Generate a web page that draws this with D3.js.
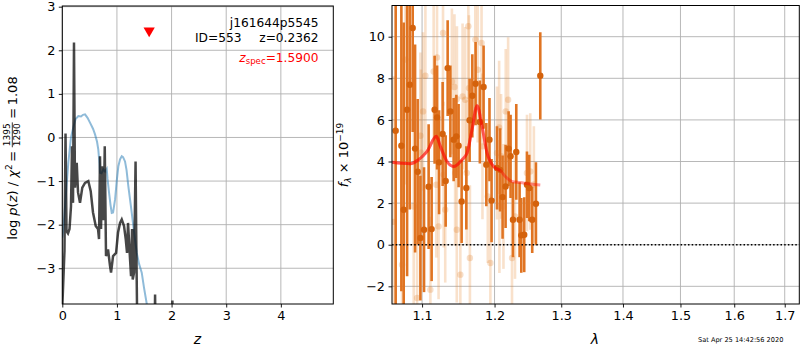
<!DOCTYPE html>
<html><head><meta charset="utf-8">
<script src="https://cdn.jsdelivr.net/npm/d3@7"></script>
<style>body{margin:0;background:#fff} text{font-family:"DejaVu Sans",sans-serif}</style>
</head><body><svg id="c" width="800" height="350" xmlns="http://www.w3.org/2000/svg"></svg>
<script>
// ---------- data ----------
// left panel: chi2-based log p(z) (dark) and prior/template log p(z) (blue)
const chiZ   = [0,0.018,0.040,0.059,0.077,0.104,0.132,0.159,0.178,0.196,0.214,0.232,0.264,0.288,0.324,0.366,0.416,0.476,0.520,0.562,0.612,0.654,0.672,0.690,0.709,0.727,0.758,0.777,0.800,0.837,0.874,0.892,0.929,0.984,1.020,1.057,1.088,1.130,1.161,1.185,1.203,1.240,1.258,1.277,1.289,1.313,1.341,1.355,1.374,1.689,1.698,1.707,2.009,2.015,2.024,4.96];
const chiLogP= [-3.9,-3.3,-2.6,0.09,-2.15,-2.2,-2.1,-1.58,-0.2,-1.5,2.18,-1.15,-0.58,-1.26,-1.5,-1.15,-1.04,-1.0,-1.23,-1.72,-2.03,-2.1,-2.33,-0.43,-2.1,-0.66,-1.9,-0.2,-2.72,-2.57,-2.95,-3.1,-2.72,-2.65,-2.18,-1.96,-1.88,-2.03,-2.33,-2.65,-1.96,-2.8,-3.18,-2.1,-3.26,-3.1,-0.55,-2.5,-4.6,-4.6,-3.6,-4.6,-4.6,-3.74,-4.6,-4.6];
const blueZ  = [0,0.018,0.049,0.110,0.159,0.201,0.242,0.293,0.342,0.379,0.416,0.462,0.507,0.562,0.599,0.636,0.659,0.681,0.690,0.718,0.751,0.782,0.813,0.828,0.856,0.883,0.905,0.929,0.966,0.996,1.026,1.057,1.088,1.112,1.148,1.176,1.209,1.258,1.300,1.332,1.363,1.405,1.454,1.496,1.546,1.588,1.643,2.0,4.96];
const blueLogP=[-2.3,-2.11,-1.6,-0.58,0.0,0.23,0.42,0.49,0.48,0.52,0.53,0.45,0.34,0.2,0.07,-0.1,-0.28,-0.6,-0.81,-0.82,-0.73,-0.78,-0.72,-0.95,-1.27,-1.55,-1.73,-1.72,-1.42,-1.0,-0.66,-0.5,-0.43,-0.45,-0.55,-0.75,-1.12,-1.6,-2.03,-2.35,-2.65,-2.9,-3.1,-3.45,-3.82,-4.3,-5,-8,-20];
const zSpec = 1.59, zSpecMarker = 2.45;
const labelName = "j161644p5545", labelId = "ID=553", labelZ = "z=0.2362", labelZspec = "=1.5900";
const chi2Num = "1395", chi2Den = "1290", chi2Red = "1.08";
const timestamp = "Sat Apr 25 14:42:56 2020";

// right panel: spectrum, strong orientation (dark) and weak orientation (light)
const darkWave = [1.0657,1.0730,1.0760,1.0804,1.0838,1.0877,1.0908,1.0942,1.0978,1.1026,1.1087,1.1127,1.1167,1.1200,1.1227,1.1275,1.1316,1.1343,1.1380,1.1425,1.1462,1.1493,1.1535,1.1600,1.1646,1.1684,1.1730,1.1790,1.1843,1.1882,1.1927,1.1957,1.2035,1.2080,1.2116,1.2160,1.2204,1.2233,1.2268,1.2317,1.2366,1.2391,1.2435,1.2476,1.2510,1.2555,1.2611,1.2677];
const darkFlux = [5.48,4.76,1.68,6.49,7.69,10.42,4.62,3.51,0.32,0.72,2.79,0.75,6.49,6.12,3.96,5.32,3.06,8.49,6.41,5.05,5.21,4.76,2.08,2.73,5.98,7.16,7.74,5.9,7.58,3.85,5.05,2.12,3.69,3.6,2.29,2.8,4.62,4.25,1.2,4.46,1.2,0.45,0.48,2.88,2.73,1.2,1.97,8.12];
const darkErr  = [9,7,9,8,6,5,5,3.5,3,3,3,2.5,2.6,2.5,2.5,2.5,2.2,2.3,2.2,2.0,2.0,2.0,2.0,2.0,2.0,2.0,2.0,2.0,2.0,2.0,2.0,2.0,2.0,2.0,2.0,2.0,1.8,2.0,1.8,2.3,1.8,1.8,1.8,1.6,1.6,1.6,2.0,2.1];
const lightWave = [1.0632,1.0739,1.0782,1.0890,1.0934,1.0978,1.0985,1.1013,1.1044,1.1110,1.1154,1.1190,1.1199,1.1220,1.1280,1.1288,1.1310,1.1401,1.1436,1.1445,1.1468,1.1470,1.1517,1.1548,1.1584,1.1606,1.1628,1.1637,1.1650,1.1726,1.1760,1.1814,1.1827,1.1903,1.1940,1.2035,1.2066,1.2070,1.2094,1.2129,1.2162,1.2197,1.2254,1.2298,1.2476,1.2525,1.2580];
const lightFlux = [1.1,-0.96,8.9,1.84,-2.56,5.24,4.42,6.41,8.12,-2.16,8.33,2.88,9.0,0.88,10.18,3.37,1.68,7.85,7.58,3.45,0.72,7.0,-1.44,7.13,6.97,3.45,10.5,7.53,-0.64,9.86,8.41,9.7,4.73,2.32,-0.88,4.41,5.64,1.84,4.25,1.84,6.41,6.97,-0.64,1.36,3.45,3.52,2.9];
const lightErr  = [7,6,6,5,4.5,4,4,3.8,3.8,3.5,3.5,3.5,3.5,3.5,3.5,3.5,3.5,3.5,3.5,3.5,3.5,3.5,3.5,3.5,3.5,3.5,3.5,3.5,3.5,3.5,3.5,3.5,3.5,3.2,3.2,3.2,3.2,3.2,3.0,3.0,3.0,3.0,3.0,3.0,2.8,2.8,2.8];
const modelWave = [1.0611,1.0847,1.0955,1.1066,1.1190,1.1244,1.1335,1.1425,1.1541,1.1610,1.1680,1.1750,1.1821,1.1892,1.1986,1.2083,1.2156,1.2254,1.2376,1.2525,1.2677];
const modelFlux = [3.96,3.89,4.09,4.49,5.21,4.73,4.0,3.76,4.09,4.41,5.53,6.68,5.69,4.41,3.76,3.57,3.28,3.04,2.99,2.92,2.87];

const leftXTicks = [0,1,2,3,4], leftYTicks = [-3,-2,-1,0,1,2,3];
const rightXTicks = [1.1,1.2,1.3,1.4,1.5,1.6,1.7], rightYTicks = [-2,0,2,4,6,8,10];

// ---------- drawing ----------
const svg = d3.select("#c");
const FONT = "DejaVu Sans, sans-serif";
const L = {x0:62.3, x1:333.3, y0:6, y1:304};
const R = {x0:392, x1:799.3, y0:5.5, y1:304};

const xL = d3.scaleLinear().domain([0,4.96]).range([L.x0,L.x1]);
const yL = d3.scaleLinear().domain([-3.82,3.016]).range([L.y1,L.y0]);
const xR = d3.scaleLog().domain([1.061,1.730]).range([R.x0,R.x1]);
const yR = d3.scaleLinear().domain([-2.85,11.5]).range([R.y1,R.y0]);

const defs = svg.append("defs");
defs.append("clipPath").attr("id","clipL").append("rect").attr("x",L.x0).attr("y",L.y0).attr("width",L.x1-L.x0).attr("height",L.y1-L.y0);
defs.append("clipPath").attr("id","clipR").append("rect").attr("x",R.x0).attr("y",R.y0).attr("width",R.x1-R.x0).attr("height",R.y1-R.y0);

function grid(P, xs, ys, xt, yt){
  const g = svg.append("g");
  g.selectAll(".gx").data(xt).join("line").attr("x1",d=>xs(d)).attr("x2",d=>xs(d)).attr("y1",P.y0).attr("y2",P.y1)
   .attr("stroke","#b0b0b0").attr("stroke-width",0.9);
  g.selectAll(".gy").data(yt).join("line").attr("y1",d=>ys(d)).attr("y2",d=>ys(d)).attr("x1",P.x0).attr("x2",P.x1)
   .attr("stroke","#b0b0b0").attr("stroke-width",0.9);
}
function axes(P, xs, ys, xt, yt, xf, yf){
  const ax = svg.append("g").attr("transform",`translate(0,${P.y1})`)
    .call(d3.axisBottom(xs).tickValues(xt).tickFormat(xf).tickSize(3.5).tickPadding(3.5));
  const ay = svg.append("g").attr("transform",`translate(${P.x0},0)`)
    .call(d3.axisLeft(ys).tickValues(yt).tickFormat(yf).tickSize(3.5).tickPadding(3.5));
  [ax,ay].forEach(a=>{
    a.select(".domain").remove();
    a.attr("font-family",FONT).attr("font-size",12.8);
    a.selectAll("text").attr("fill","#000");
    a.selectAll("line").attr("stroke","#000").attr("stroke-width",0.9);
  });
  svg.append("rect").attr("x",P.x0).attr("y",P.y0).attr("width",P.x1-P.x0).attr("height",P.y1-P.y0)
    .attr("fill","none").attr("stroke","#000").attr("stroke-width",1);
}

// ----- left panel -----
grid(L, xL, yL, leftXTicks, leftYTicks);
const gl = svg.append("g").attr("clip-path","url(#clipL)");
gl.append("path").datum(blueZ.map((z,i)=>[z,blueLogP[i]]))
  .attr("d", d3.line().x(d=>xL(d[0])).y(d=>yL(d[1])))
  .attr("fill","none").attr("stroke","#1f77b4").attr("stroke-opacity",0.5).attr("stroke-width",2);
gl.append("path").datum(chiZ.map((z,i)=>[z,chiLogP[i]]))
  .attr("d", d3.line().x(d=>xL(d[0])).y(d=>yL(d[1])))
  .attr("fill","none").attr("stroke","#000").attr("stroke-opacity",0.72).attr("stroke-width",2.5).attr("stroke-linejoin","miter");
gl.append("path").attr("d", d3.symbol(d3.symbolTriangle, 55)())
  .attr("transform",`translate(${xL(zSpec)},${yL(zSpecMarker)}) rotate(180)`).attr("fill","#ff0000");
axes(L, xL, yL, leftXTicks, leftYTicks, d3.format("d"), d3.format("d"));

svg.append("text").attr("x",318.5).attr("y",27).attr("text-anchor","end").attr("font-size",12.2).text(labelName);
svg.append("text").attr("x",195).attr("y",42).attr("font-size",12.2).text(labelId);
svg.append("text").attr("x",318.5).attr("y",42).attr("text-anchor","end").attr("font-size",12.2).text(labelZ);
const zs = svg.append("text").attr("x",318.5).attr("y",61.5).attr("text-anchor","end").attr("font-size",12.2).attr("fill","#ff0000");
zs.append("tspan").attr("font-style","italic").text("z");
zs.append("tspan").attr("font-size",8.6).attr("dy",2.5).text("spec");
zs.append("tspan").attr("dy",-2.5).text(labelZspec);

// left y label (rotated, with fraction)
{
  const g = svg.append("g").attr("transform","translate(16.5,158) rotate(-90)");
  const fs = 13;
  const t1 = g.append("text").attr("font-size",fs).attr("x",0).attr("y",0);
  t1.append("tspan").text("log ");
  t1.append("tspan").attr("font-style","italic").text("p");
  t1.append("tspan").text("(");
  t1.append("tspan").attr("font-style","italic").text("z");
  t1.append("tspan").text(") / ");
  t1.append("tspan").attr("font-style","italic").text("χ");
  t1.append("tspan").attr("font-size",9).attr("dy",-5).text("2");
  t1.append("tspan").attr("dy",5).text("\u2009=\u2009");
  const w1 = t1.node().getComputedTextLength();
  const nf = 9;
  const num = g.append("text").attr("font-size",nf).attr("text-anchor","middle").text(chi2Num);
  const den = g.append("text").attr("font-size",nf).attr("text-anchor","middle").text(chi2Den);
  const fw = Math.max(num.node().getComputedTextLength(), den.node().getComputedTextLength()) + 2;
  const fc = w1 + 1 + fw/2;
  num.attr("x",fc).attr("y",-6.5);
  den.attr("x",fc).attr("y",3.5);
  g.append("line").attr("x1",fc-fw/2).attr("x2",fc+fw/2).attr("y1",-4.2).attr("y2",-4.2).attr("stroke","#000").attr("stroke-width",0.8);
  const t2 = g.append("text").attr("font-size",fs).attr("x",w1+fw+2).attr("y",0).text("\u2009=\u2009"+chi2Red);
  const total = w1+fw+2+t2.node().getComputedTextLength();
  g.selectAll("text,line").each(function(){
    const s = d3.select(this);
    if (this.tagName==="line"){ s.attr("x1",+s.attr("x1")-total/2).attr("x2",+s.attr("x2")-total/2); }
    else s.attr("x",+s.attr("x")-total/2);
  });
}
svg.append("text").attr("x",197.5).attr("y",344).attr("text-anchor","middle").attr("font-size",14).attr("font-style","italic").text("z");

// ----- right panel -----
grid(R, xR, yR, rightXTicks, rightYTicks);
const gr = svg.append("g").attr("clip-path","url(#clipR)");
const light = lightWave.map((w,i)=>({w, f:lightFlux[i], e:lightErr[i]}));
const dark = darkWave.map((w,i)=>({w, f:darkFlux[i], e:darkErr[i]}));
gr.selectAll(".le").data(light).join("line")
  .attr("x1",d=>xR(d.w)).attr("x2",d=>xR(d.w)).attr("y1",d=>yR(d.f-d.e)).attr("y2",d=>yR(d.f+d.e))
  .attr("stroke","#e8862f").attr("stroke-opacity",0.25).attr("stroke-width",2.6);
gr.selectAll(".lp").data(light).join("circle")
  .attr("cx",d=>xR(d.w)).attr("cy",d=>yR(d.f)).attr("r",3.2).attr("fill","#e07a25").attr("fill-opacity",0.25);
gr.selectAll(".de").data(dark).join("line")
  .attr("x1",d=>xR(d.w)).attr("x2",d=>xR(d.w)).attr("y1",d=>yR(d.f-d.e)).attr("y2",d=>yR(d.f+d.e))
  .attr("stroke","#e07422").attr("stroke-width",2.6);
gr.selectAll(".dp").data(dark).join("circle")
  .attr("cx",d=>xR(d.w)).attr("cy",d=>yR(d.f)).attr("r",3.2).attr("fill","#d4620c");
const model = modelWave.map((w,i)=>[w,modelFlux[i]]);
const mline = d3.line().curve(d3.curveMonotoneX).x(d=>xR(d[0])).y(d=>yR(d[1]));
gr.append("path").datum(model).attr("d",mline).attr("fill","none").attr("stroke","#ff0000").attr("stroke-opacity",0.4).attr("stroke-width",3);
gr.append("path").datum(model.filter(d=>d[0]<1.21)).attr("d",mline).attr("fill","none").attr("stroke","#ff0000").attr("stroke-opacity",0.4).attr("stroke-width",3);
gr.append("line").attr("x1",R.x0).attr("x2",R.x1).attr("y1",yR(0)).attr("y2",yR(0))
  .attr("stroke","#000").attr("stroke-width",1.5).attr("stroke-dasharray","1.5,2.2");
axes(R, xR, yR, rightXTicks, rightYTicks, d3.format(".1f"), d3.format("d"));

{
  const g = svg.append("g").attr("transform","translate(348,155) rotate(-90)");
  const t = g.append("text").attr("font-size",13).attr("text-anchor","middle");
  t.append("tspan").attr("font-style","italic").text("f");
  t.append("tspan").attr("font-size",9).attr("dy",3).attr("font-style","italic").text("λ");
  t.append("tspan").attr("dy",-3).text(" × 10");
  t.append("tspan").attr("font-size",9).attr("dy",-5).text("−19");
}
svg.append("text").attr("x",595).attr("y",344).attr("text-anchor","middle").attr("font-size",14).attr("font-style","italic").text("λ");
svg.append("text").attr("x",698).attr("y",342).attr("font-size",6.6).text(timestamp);
</script></body></html>
